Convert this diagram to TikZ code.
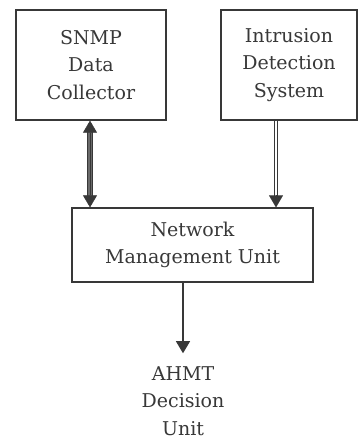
\documentclass[tikz,border=0pt]{standalone}
\usepackage{fontspec}
\setmainfont{DejaVu Serif}
\usetikzlibrary{arrows.meta,calc}
\definecolor{ink}{gray}{0.22}
\tikzset{
	blockbox/.style={draw=ink,line width=1.3pt,align=center,text=ink,inner sep=0pt},
	blocktext/.style={align=center,text=ink,inner sep=0pt},
	tip/.style={-{Triangle[length=12pt,width=14pt]}},
}

\begin{document}
\begin{tikzpicture}[x=1pt,y=-1pt,font=\fontsize{19}{27.5}\selectfont]
		\useasboundingbox[fill=white] (0,0) rectangle (358,442);
		\node[blockbox,minimum width=150pt,minimum height=110pt] (snmp) at (91,65) {SNMP\\Data\\Collector};
		\node[blockbox,minimum width=136pt,minimum height=110pt] (ids) at (289,65) {Intrusion\\Detection\\System};
		\node[blockbox,minimum width=241pt,minimum height=74pt] (nmu) at (192.5,245) {Network\\Management Unit};
		\node[blocktext] (ahmt) at (183,401) {AHMT\\Decision\\Unit};
		\coordinate (l) at (90,0);
		\coordinate (r) at (276,0);
		\coordinate (m) at (183,0);
		% double arrow, dark filled shaft
		\draw[ink,line width=1.6pt,double=ink!75,double distance=3.6pt,shorten <=10pt,shorten >=10pt] (snmp.south -| l) -- (nmu.north -| l);
		\draw[ink,{Triangle[length=12pt,width=14pt]}-{Triangle[length=12pt,width=14pt]},line width=0.5pt] (snmp.south -| l) -- (nmu.north -| l);
		% hollow double shaft
		\draw[ink,line width=1pt,double=white,double distance=2.8pt,shorten >=10pt] (ids.south -| r) -- (nmu.north -| r);
		\draw[ink,tip,line width=0.1pt] ($ (nmu.north -| r) + (0,-12) $) -- (nmu.north -| r);
		\draw[ink,tip,line width=1.1pt] (nmu.south -| m) -- ($ (ahmt.north) + (0,-13) $);
	\end{tikzpicture}
\end{document}
